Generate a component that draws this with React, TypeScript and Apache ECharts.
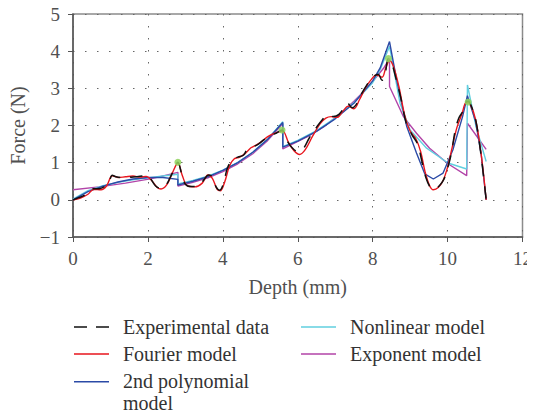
import React, { useEffect, useRef } from "react";
import * as echarts from "echarts";

const xTicks = [0, 2, 4, 6, 8, 10, 12];
const yTicks = [-1, 0, 1, 2, 3, 4, 5];

const seriesNames = [
  "Experimental data",
  "Fourier model",
  "2nd polynomial model",
  "Nonlinear model",
  "Exponent model",
];

const experimental: number[][] = [
  [0.0, 0.0], [0.15, 0.06], [0.3, 0.12], [0.45, 0.25], [0.55, 0.3], [0.7, 0.3],
  [0.85, 0.36], [0.95, 0.45], [1.05, 0.66], [1.15, 0.62], [1.3, 0.6], [1.45, 0.63],
  [1.55, 0.61], [1.7, 0.62], [1.85, 0.64], [1.95, 0.67], [2.05, 0.6], [2.2, 0.38],
  [2.35, 0.3], [2.5, 0.42], [2.65, 0.72], [2.8, 1.01], [2.9, 0.7], [3.0, 0.42],
  [3.15, 0.36], [3.35, 0.37], [3.5, 0.55], [3.62, 0.67], [3.72, 0.62], [3.82, 0.35],
  [3.92, 0.26], [4.02, 0.45], [4.12, 0.85], [4.25, 1.08], [4.4, 1.15], [4.55, 1.2],
  [4.65, 1.35], [4.8, 1.42], [4.95, 1.5], [5.1, 1.62], [5.25, 1.72], [5.4, 1.78],
  [5.58, 1.88], [5.7, 1.62], [5.85, 1.4], [6.0, 1.3], [6.15, 1.38], [6.3, 1.65],
  [6.5, 1.95], [6.65, 2.15], [6.8, 2.28], [6.95, 2.24], [7.1, 2.3], [7.25, 2.5],
  [7.33, 2.6], [7.45, 2.48], [7.55, 2.55], [7.7, 2.85], [7.85, 3.1], [8.0, 3.3],
  [8.15, 3.38], [8.25, 3.22], [8.32, 3.3], [8.42, 3.8], [8.5, 3.7], [8.6, 3.35],
  [8.75, 2.75], [8.9, 2.05], [9.05, 1.75], [9.2, 1.5], [9.3, 1.1], [9.42, 0.6],
  [9.55, 0.32], [9.65, 0.29], [9.78, 0.38], [9.9, 0.55], [10.0, 0.85], [10.1, 1.25],
  [10.2, 1.85], [10.3, 2.2], [10.42, 2.4], [10.52, 2.65], [10.6, 2.6], [10.75, 2.15],
  [10.88, 1.3], [11.03, 0.0],
];

const fourier: number[][] = [
  [0.0, 0.0], [0.2, 0.05], [0.4, 0.15], [0.55, 0.28], [0.75, 0.27], [0.9, 0.38],
  [1.05, 0.65], [1.2, 0.6], [1.4, 0.62], [1.6, 0.64], [1.8, 0.61], [1.95, 0.63],
  [2.1, 0.52], [2.25, 0.33], [2.35, 0.29], [2.5, 0.4], [2.65, 0.72], [2.8, 0.99],
  [2.92, 0.65], [3.05, 0.38], [3.25, 0.35], [3.45, 0.45], [3.6, 0.67], [3.72, 0.58],
  [3.85, 0.28], [3.93, 0.24], [4.05, 0.48], [4.18, 0.92], [4.3, 1.1], [4.45, 1.15],
  [4.6, 1.25], [4.75, 1.4], [4.9, 1.48], [5.05, 1.58], [5.2, 1.7], [5.35, 1.78],
  [5.5, 1.83], [5.6, 1.85], [5.75, 1.55], [5.9, 1.32], [6.05, 1.22], [6.2, 1.35],
  [6.4, 1.72], [6.6, 2.05], [6.75, 2.2], [6.9, 2.24], [7.05, 2.22], [7.2, 2.38],
  [7.35, 2.52], [7.5, 2.45], [7.65, 2.7], [7.8, 3.0], [7.95, 3.22], [8.1, 3.36],
  [8.25, 3.3], [8.35, 3.55], [8.45, 3.75], [8.55, 3.6], [8.7, 3.05], [8.85, 2.3],
  [9.0, 1.85], [9.15, 1.65], [9.28, 1.3], [9.4, 0.75], [9.52, 0.38], [9.62, 0.27],
  [9.75, 0.33], [9.88, 0.52], [10.0, 0.88], [10.12, 1.4], [10.25, 1.95], [10.38, 2.3],
  [10.5, 2.62], [10.6, 2.58], [10.75, 2.15], [10.9, 1.2], [11.03, 0.0],
];

const polynomial: number[][] = [
  [0.0, 0.0], [0.4, 0.22], [0.8, 0.37], [1.2, 0.48], [1.6, 0.56], [2.0, 0.6],
  [2.4, 0.6], [2.8, 0.55], [2.8, 0.4], [3.2, 0.5], [3.6, 0.62], [4.0, 0.79],
  [4.4, 1.0], [4.8, 1.28], [5.2, 1.63], [5.6, 2.08], [5.6, 1.42], [6.0, 1.58],
  [6.5, 1.84], [7.0, 2.18], [7.5, 2.6], [8.0, 3.2], [8.2, 3.55], [8.45, 4.26],
  [8.64, 3.23], [8.91, 1.97], [9.17, 1.26], [9.39, 0.7], [9.62, 0.56], [9.88, 0.72],
  [10.14, 1.34], [10.4, 2.24], [10.53, 2.8], [10.75, 2.1], [10.9, 1.2], [11.03, 0.0],
];

const nonlinear: number[][] = [
  [0.0, 0.02], [0.4, 0.25], [0.8, 0.38], [1.2, 0.47], [1.6, 0.54], [2.0, 0.59],
  [2.4, 0.64], [2.8, 0.69], [2.8, 0.43], [3.2, 0.52], [3.6, 0.64], [4.0, 0.8],
  [4.4, 1.01], [4.8, 1.28], [5.2, 1.64], [5.6, 2.1], [5.6, 1.43], [6.0, 1.6],
  [6.5, 1.86], [7.0, 2.2], [7.5, 2.62], [8.0, 3.15], [8.2, 3.5], [8.45, 4.13],
  [8.73, 2.6], [9.0, 1.88], [9.44, 1.39], [10.01, 0.99], [10.51, 0.83], [10.53, 3.09],
  [10.76, 1.97], [11.03, 1.03],
];

const exponent: number[][] = [
  [0.0, 0.27], [0.7, 0.35], [1.4, 0.45], [2.1, 0.57], [2.8, 0.74], [2.8, 0.37],
  [3.2, 0.47], [3.6, 0.59], [4.0, 0.76], [4.4, 0.97], [4.8, 1.24], [5.2, 1.6],
  [5.6, 2.05], [5.6, 1.37], [6.26, 1.7], [6.7, 1.97], [7.15, 2.33], [7.5, 2.65],
  [7.85, 3.0], [8.29, 3.54], [8.45, 3.8], [8.45, 3.05], [8.82, 2.24], [9.17, 1.79],
  [9.52, 1.39], [10.01, 0.97], [10.51, 0.65], [10.53, 2.06], [11.03, 1.36],
];

const peaks: number[][] = [
  [2.8, 1.01], [5.58, 1.88], [8.42, 3.8], [10.55, 2.63],
];

const FONT = "Liberation Serif";
const TXT = "#505050";

// legend icon shapes (44 wide box; the line occupies the first 35 px)
const SPECK_A = "M0,0h0.05v0.05h-0.05zM43.95,3.95h0.05v0.05h-0.05z";
const SOLID_A = "path://M0,1.2h35v1.6h-35z" + SPECK_A;
const DASH_A = "path://M0,1.2h13v1.6h-13zM22,1.2h13v1.6h-13z" + SPECK_A;
const SOLID_B = "path://M0,0h35v1.6h-35zM0,0h0.05v0.05h-0.05zM43.95,21.95h0.05v0.05h-0.05z";

export default function App() {
  const ref = useRef<HTMLDivElement>(null);
  useEffect(() => {
    if (!ref.current) return;
    const chart = echarts.init(ref.current, undefined, { renderer: "svg" });
    const lineSeries = (name: string, data: number[][], color: string, width: number, extra: any = {}) => ({
      name,
      type: "line",
      data,
      symbol: "none",
      showSymbol: false,
      lineStyle: { color, width, ...(extra.lineStyle || {}) },
      itemStyle: { color },
      smooth: extra.smooth ?? false,
      z: extra.z ?? 2,
    });
    const legendText = { fontFamily: FONT, fontSize: 20, color: "#333", lineHeight: 22 };
    const legendBase = {
      orient: "vertical",
      height: 200,
      itemWidth: 44, itemHeight: 4, itemGap: 5,
      symbolKeepAspect: false,
      textStyle: legendText,
    };
    chart.setOption({
      animation: false,
      grid: {
        left: 73, right: 8, top: 14, bottom: 181,
        show: true, borderColor: "#8c8c8c", borderWidth: 1.5,
      },
      xAxis: {
        type: "value", min: 0, max: 12, interval: 2,
        name: "Depth (mm)", nameLocation: "middle", nameGap: 40,
        nameTextStyle: { fontFamily: FONT, fontSize: 20, color: TXT },
        axisLine: { show: true, onZero: false, lineStyle: { color: "#555", width: 1.5 } },
        axisTick: { show: true, length: 5, lineStyle: { color: "#555" } },
        axisLabel: { fontFamily: FONT, fontSize: 19, color: TXT, margin: 12,
          formatter: (v: number) => (xTicks.includes(v) ? String(v) : "") },
        splitLine: { show: true, lineStyle: { color: "#666", width: 1, type: [1.5, 10.5] } },
      },
      yAxis: {
        type: "value", min: -1, max: 5, interval: 1,
        name: "Force (N)", nameLocation: "middle", nameGap: 45,
        nameTextStyle: { fontFamily: FONT, fontSize: 20, color: TXT },
        axisLine: { show: true, onZero: false, lineStyle: { color: "#555", width: 1.5 } },
        axisTick: { show: true, length: 5, lineStyle: { color: "#555" } },
        axisLabel: { fontFamily: FONT, fontSize: 19, color: TXT, margin: 13,
          formatter: (v: number) => (yTicks.includes(v) ? String(v).replace("-", "\u2212") : "") },
        splitLine: { show: true, lineStyle: { color: "#666", width: 1, type: [1.5, 10.5] } },
      },
      legend: [
        {
          ...legendBase, left: 69, top: 311,
          data: [
            { name: "Experimental data", icon: DASH_A },
            { name: "Fourier model", icon: SOLID_A },
          ],
        },
        {
          ...legendBase, left: 69, top: 365, itemHeight: 22,
          formatter: () => "2nd polynomial\nmodel",
          data: [{ name: "2nd polynomial model", icon: SOLID_B }],
        },
        {
          ...legendBase, left: 296, top: 311,
          data: [
            { name: "Nonlinear model", icon: SOLID_A },
            { name: "Exponent model", icon: SOLID_A },
          ],
        },
      ],
      series: [
        lineSeries(seriesNames[4], exponent, "#b244a8", 1.4),
        lineSeries(seriesNames[3], nonlinear, "#62cfe0", 1.4),
        lineSeries(seriesNames[2], polynomial, "#2b4aa6", 1.4),
        lineSeries(seriesNames[1], fourier, "#e8161e", 1.4, { smooth: 0.35 }),
        lineSeries(seriesNames[0], experimental, "#111111", 1.5, {
          smooth: 0.35, z: 3, lineStyle: { type: [12.5, 10] },
        }),
        {
          type: "scatter", data: peaks, symbolSize: 7, z: 4,
          itemStyle: { color: "#8fd25e", opacity: 0.85 },
          silent: true,
        },
      ],
    });
    return () => chart.dispose();
  }, []);
  return <div ref={ref} style={{ width: 535, height: 418, margin: -8 }} />;
}
